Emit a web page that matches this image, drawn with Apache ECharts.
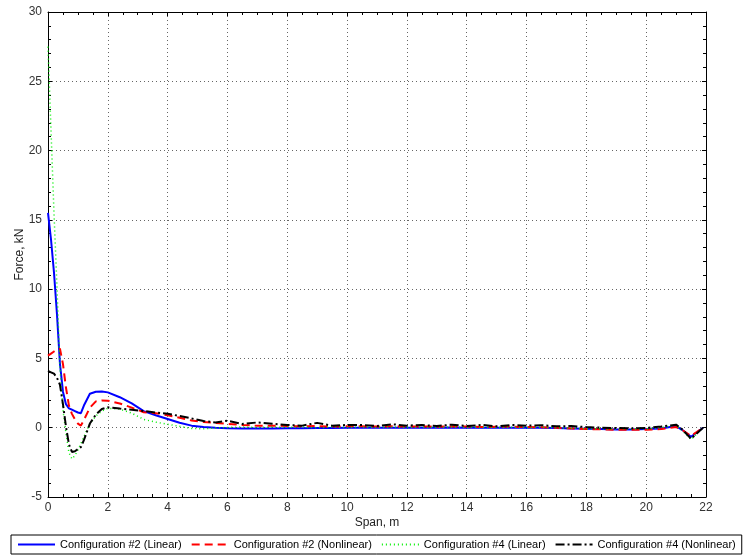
<!DOCTYPE html>
<html>
<head>
<meta charset="utf-8">
<script src="https://cdn.jsdelivr.net/npm/echarts@6/dist/echarts.min.js"></script>
<style>
html,body{margin:0;padding:0;background:#fff;}
#chart{width:744px;height:557px;}
</style>
</head>
<body>
<div id="chart"></div>
<script>
const seriesNames = ['Configuration #2 (Linear)', 'Configuration #2 (Nonlinear)', 'Configuration #4 (Linear)', 'Configuration #4 (Nonlinear)'];
const xs = [0, 0.1, 0.2, 0.3, 0.4, 0.5, 0.6, 0.7, 0.8, 0.9, 1.0, 1.1, 1.2, 1.4, 1.6, 1.8, 2.0, 2.4, 2.8, 3.2, 3.6, 4.0, 4.4, 4.8, 5.2, 5.6, 6.0, 6.5, 7.0, 7.5, 8.0, 8.5, 9.0, 9.5, 10, 10.5, 11, 11.5, 12, 12.5, 13, 13.5, 14, 14.5, 15, 15.5, 16, 16.5, 17, 17.5, 18, 18.5, 19, 19.5, 20, 20.5, 21.0, 21.2, 21.5, 21.9];
const cfg2Linear = [15.5, 13.6, 11.2, 8.2, 4.6, 2.6, 1.7, 1.4, 1.3, 1.2, 1.1, 1.05, 1.6, 2.45, 2.6, 2.62, 2.55, 2.2, 1.75, 1.2, 0.9, 0.63, 0.36, 0.15, 0.06, 0.0, -0.03, -0.05, -0.05, -0.05, -0.04, -0.03, -0.02, -0.02, -0.01, 0, 0, 0, 0, 0, 0, 0.01, 0, 0, 0, 0, 0, 0, -0.02, -0.05, -0.08, -0.1, -0.12, -0.12, -0.1, -0.05, 0.12, -0.15, -0.65, 0.0];
const cfg2Nonlinear = [5.2, 5.35, 5.5, 5.65, 5.7, 4.6, 2.9, 1.6, 1.0, 0.6, 0.3, 0.15, 0.55, 1.45, 1.9, 1.97, 1.95, 1.75, 1.45, 1.12, 1.05, 0.9, 0.72, 0.52, 0.42, 0.35, 0.28, 0.2, 0.14, 0.15, 0.12, 0.1, 0.12, 0.08, 0.1, 0.1, 0.08, 0.1, 0.08, 0.1, 0.07, 0.1, 0.08, 0.05, 0.07, 0.08, 0.05, 0.03, 0.0, -0.05, -0.1, -0.12, -0.15, -0.15, -0.15, -0.1, 0.05, -0.15, -0.6, 0.0];
const cfg4Linear = [27.5, 21.5, 15.5, 10.2, 4.3, 1.3, -0.4, -1.8, -2.25, -2.0, -1.6, -1.15, -0.65, 0.3, 0.85, 1.2, 1.4, 1.35, 1.05, 0.6, 0.4, 0.25, 0.1, -0.05, -0.08, -0.02, 0.02, 0.05, 0.02, 0.05, 0.03, 0.05, 0.0, 0.05, 0.03, 0.05, 0.02, 0.05, 0.02, 0.04, 0.02, 0.05, 0.02, 0.04, 0.02, 0.04, 0.02, 0.03, 0.0, -0.03, -0.08, -0.08, -0.1, -0.1, -0.08, 0.0, 0.2, -0.2, -0.85, 0.0];
const cfg4Nonlinear = [4.1, 4.0, 3.9, 3.6, 3.1, 1.7, 0.1, -1.2, -1.75, -1.7, -1.55, -1.4, -0.9, 0.3, 0.95, 1.35, 1.47, 1.38, 1.3, 1.2, 1.1, 1.0, 0.85, 0.67, 0.48, 0.38, 0.5, 0.27, 0.38, 0.28, 0.2, 0.15, 0.35, 0.14, 0.2, 0.2, 0.12, 0.25, 0.15, 0.2, 0.12, 0.22, 0.12, 0.2, 0.1, 0.2, 0.15, 0.18, 0.1, 0.12, 0.05, 0.0, -0.02, -0.05, -0.02, 0.08, 0.22, -0.1, -0.8, 0.0];

const xMin = 0, xMax = 22, xStep = 2;
const yMin = -5, yMax = 30, yStep = 5;

function pairs(ys) { return xs.map((x, i) => [x, ys[i]]); }

const labelStyle = { color: '#333', fontFamily: 'Liberation Sans, Arial, sans-serif', fontSize: 12 };
const axisLineStyle = { show: true, onZero: false, lineStyle: { color: '#000', width: 1 } };

function xAxisCfg(pos, main) {
  return {
    type: 'value', position: pos, min: xMin, max: xMax, interval: xStep,
    axisLine: axisLineStyle,
    axisTick: { show: true, inside: true, length: 4, lineStyle: { color: '#000' } },
    minorTick: { show: true, splitNumber: 4, length: 3, lineStyle: { color: '#000' } },
    axisLabel: main ? Object.assign({ show: true, margin: 5 }, labelStyle) : { show: false },
    splitLine: main ? { show: true, lineStyle: { color: '#666', type: [1, 3], width: 1 } } : { show: false },
    name: main ? 'Span, m' : '', nameLocation: 'middle', nameGap: 20, nameMoveOverlap: false,
    nameTextStyle: { color: '#222', fontFamily: 'Liberation Sans, Arial, sans-serif', fontSize: 12 }
  };
}
function yAxisCfg(pos, main) {
  return {
    type: 'value', position: pos, min: yMin, max: yMax, interval: yStep,
    axisLine: axisLineStyle,
    axisTick: { show: true, inside: true, length: 4, lineStyle: { color: '#000' } },
    minorTick: { show: true, splitNumber: 5, length: 3, lineStyle: { color: '#000' } },
    axisLabel: main ? Object.assign({ show: true, margin: 6 }, labelStyle) : { show: false },
    splitLine: main ? { show: true, lineStyle: { color: '#666', type: [1, 3], width: 1 } } : { show: false },
    name: main ? 'Force, kN' : '', nameLocation: 'middle', nameGap: 22, nameRotate: 90, nameMoveOverlap: false,
    nameTextStyle: { color: '#222', fontFamily: 'Liberation Sans, Arial, sans-serif', fontSize: 12 }
  };
}

const styles = [
  { color: '#0000ff', width: 2, type: 'solid' },
  { color: '#ff0000', width: 2, type: [8, 5] },
  { color: '#00ee00', width: 1.5, type: [1, 3] },
  { color: '#000000', width: 2, type: [9, 3, 2, 3] }
];
const allData = [cfg2Linear, cfg2Nonlinear, cfg4Linear, cfg4Nonlinear];

const chart = echarts.init(document.getElementById('chart'), null, { renderer: 'canvas' });
chart.setOption({
  animation: false,
  backgroundColor: '#fff',
  grid: { left: 48, right: 38, top: 12, bottom: 60, containLabel: false },
  xAxis: [xAxisCfg('bottom', true), xAxisCfg('top', false)],
  yAxis: [yAxisCfg('left', true), yAxisCfg('right', false)],
  legend: {
    left: 11, top: 535, orient: 'horizontal',
    padding: [4, 6, 4, 6],
    borderColor: '#000', borderWidth: 1,
    itemWidth: 37, itemHeight: 11, itemGap: 9,
    itemStyle: { opacity: 0 },
    textStyle: { color: '#000', fontFamily: 'Liberation Sans, Arial, sans-serif', fontSize: 11 },
    data: seriesNames
  },
  series: seriesNames.map((name, i) => ({
    name: name, type: 'line', xAxisIndex: 0, yAxisIndex: 0,
    data: pairs(allData[i]),
    symbol: 'none', showSymbol: false,
    lineStyle: styles[i], itemStyle: { color: styles[i].color }
  }))
});
</script>
</body>
</html>
